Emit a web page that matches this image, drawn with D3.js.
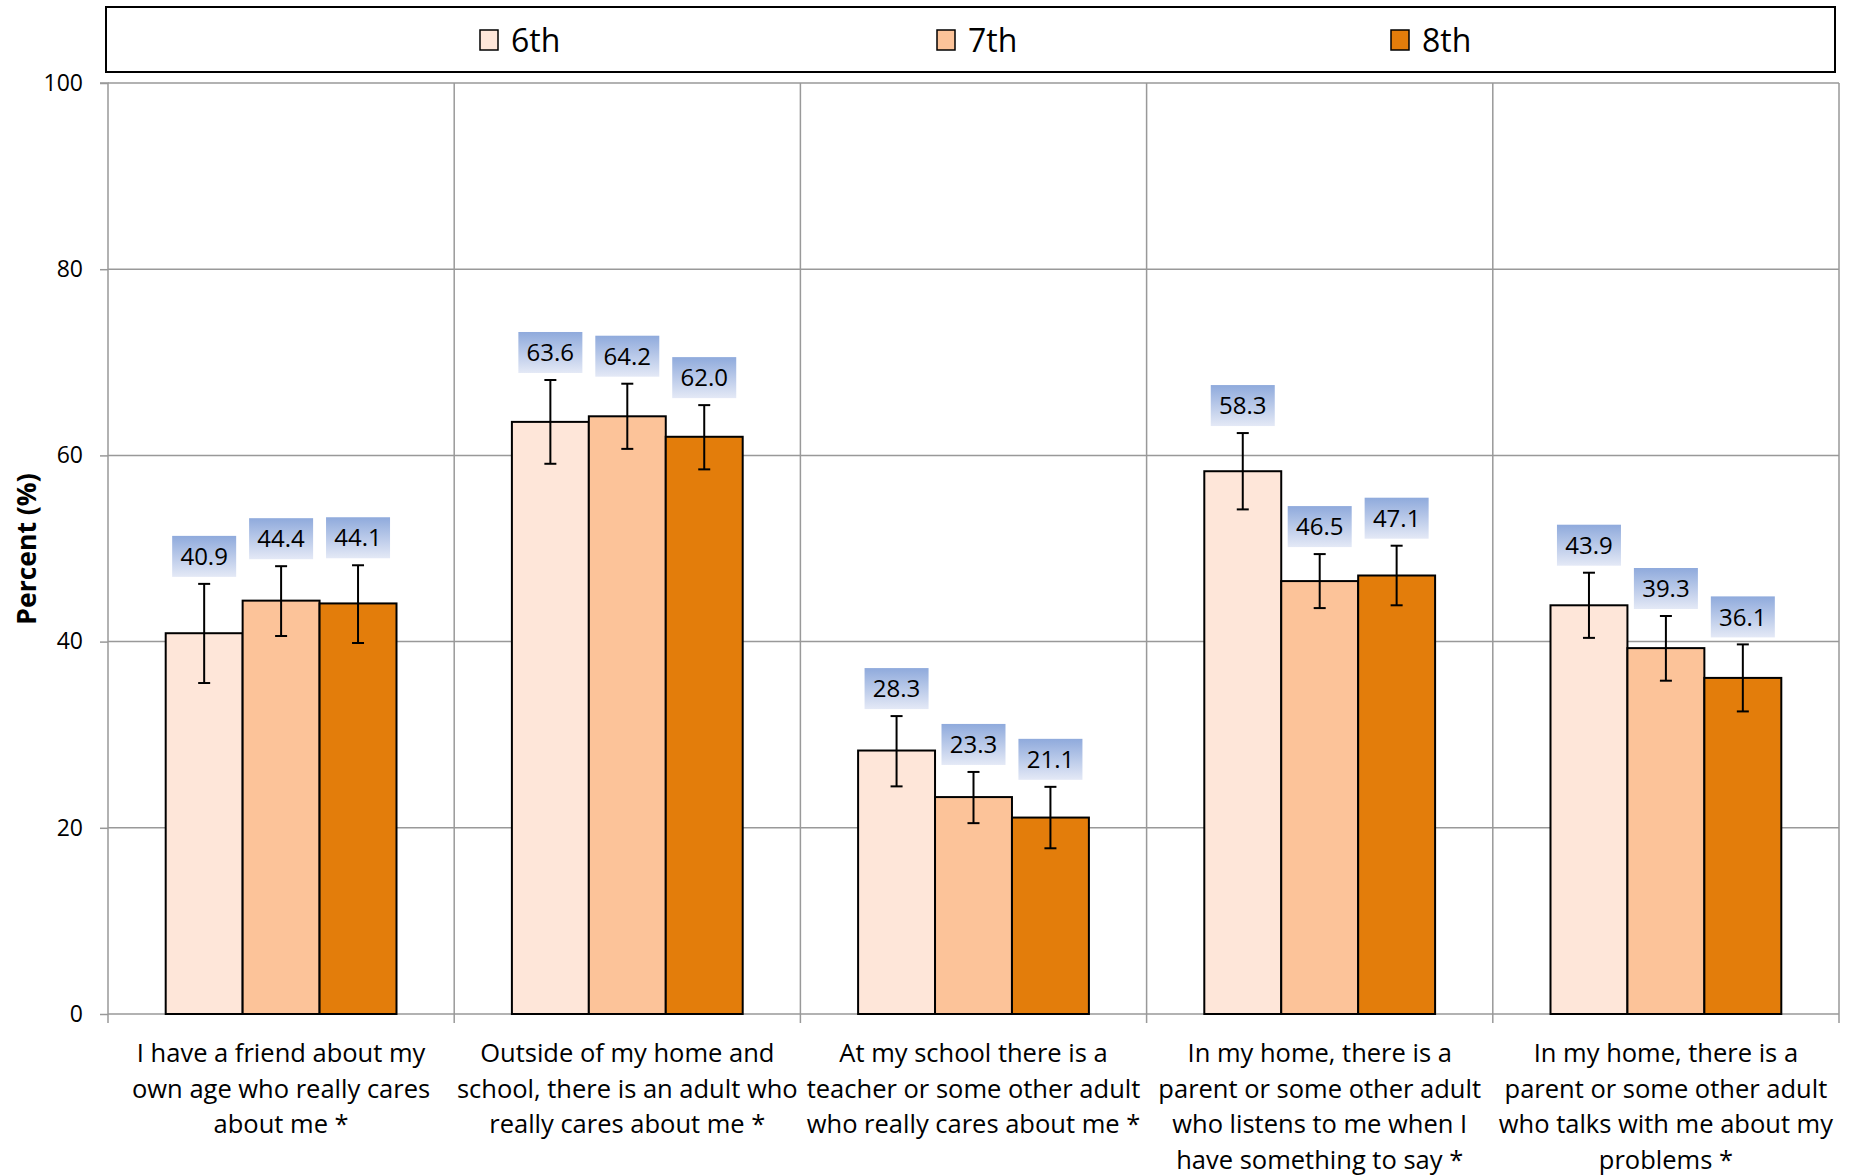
<!DOCTYPE html>
<html><head><meta charset="utf-8">
<script src="https://cdn.jsdelivr.net/npm/d3@7"></script>
<style>body{margin:0;background:#fff;} text{font-family:"Open Sans",sans-serif;}</style>
</head><body>
<svg id="c" width="1860" height="1175"></svg>
<script>
const categories = [
  ["I have a friend about my","own age who really cares","about me *"],
  ["Outside of my home and","school, there is an adult who","really cares about me *"],
  ["At my school there is a","teacher or some other adult","who really cares about me *"],
  ["In my home, there is a","parent or some other adult","who listens to me when I","have something to say *"],
  ["In my home, there is a","parent or some other adult","who talks with me about my","problems *"]
];
const seriesNames = ["6th","7th","8th"];
const seriesColors = ["#FEE6D9","#FCC399","#E37D0B"];
const v6 = [40.9,63.6,28.3,58.3,43.9];
const v7 = [44.4,64.2,23.3,46.5,39.3];
const v8 = [44.1,62.0,21.1,47.1,36.1];
const hi6 = [46.2,68.1,32.0,62.4,47.4];
const lo6 = [35.55,59.1,24.45,54.2,40.4];
const hi7 = [48.1,67.7,26.0,49.4,42.75];
const lo7 = [40.6,60.7,20.5,43.6,35.8];
const hi8 = [48.2,65.4,24.4,50.3,39.7];
const lo8 = [39.85,58.5,17.8,43.9,32.5];
const yTicks = [0,20,40,60,80,100];

const values = [v6,v7,v8], his=[hi6,hi7,hi8], los=[lo6,lo7,lo8];
const svg = d3.select("#c");
const L=108, R=1839, T=83, B=1014;
const x0 = d3.scaleBand().domain(d3.range(categories.length)).range([L,R]).padding(0);
const bw = x0.bandwidth();
const x1 = d3.scaleBand().domain(d3.range(3)).range([bw/6, bw*5/6]).padding(0);
const y = d3.scaleLinear().domain([0,100]).range([B,T]);

const defs = svg.append("defs");
const g = defs.append("linearGradient").attr("id","lg").attr("x1",0).attr("y1",0).attr("x2",0).attr("y2",1);
g.append("stop").attr("offset","0%").attr("stop-color","#8FAADC");
g.append("stop").attr("offset","100%").attr("stop-color","#E4E9F6");

// gridlines horizontal
svg.append("g").selectAll("line").data(yTicks.filter(t=>t>0)).join("line")
  .attr("x1",L).attr("x2",R).attr("y1",d=>y(d)).attr("y2",d=>y(d))
  .attr("stroke","#999").attr("stroke-width",1.5);
// vertical gridlines at category boundaries
const bounds = d3.range(1,categories.length+1).map(i=>L+i*bw);
svg.append("g").selectAll("line").data(bounds).join("line")
  .attr("x1",d=>d).attr("x2",d=>d).attr("y1",T).attr("y2",B+9)
  .attr("stroke","#999").attr("stroke-width",1.5);

// y axis
const ya = svg.append("g").attr("transform",`translate(${L},0)`)
  .call(d3.axisLeft(y).tickValues(yTicks).tickSize(8).tickPadding(17));
ya.select(".domain").attr("stroke","#999").attr("stroke-width",1.5).attr("d",`M-8,${T}H0V${B+9}`);
ya.selectAll(".tick line").attr("stroke","#999").attr("stroke-width",1.5);
ya.selectAll(".tick text").attr("font-size",23).attr("fill","#000").attr("font-family","Open Sans");
// x axis baseline
svg.append("line").attr("x1",L).attr("x2",R).attr("y1",B).attr("y2",B).attr("stroke","#999").attr("stroke-width",1.5);

// bars
categories.forEach((c,ci)=>{
  const gx = x0(ci);
  values.forEach((vals,si)=>{
    const v = vals[ci];
    svg.append("rect").attr("x",gx+x1(si)).attr("y",y(v)).attr("width",x1.bandwidth()).attr("height",B-y(v))
      .attr("fill",seriesColors[si]).attr("stroke","#000").attr("stroke-width",2);
  });
});
// error bars and labels
categories.forEach((c,ci)=>{
  const gx = x0(ci);
  values.forEach((vals,si)=>{
    const cx = gx+x1(si)+x1.bandwidth()/2;
    const h = his[si][ci], l = los[si][ci];
    const eg = svg.append("g").attr("stroke","#000").attr("stroke-width",2);
    eg.append("line").attr("x1",cx).attr("x2",cx).attr("y1",y(h)).attr("y2",y(l));
    eg.append("line").attr("x1",cx-6).attr("x2",cx+6).attr("y1",y(h)).attr("y2",y(h));
    eg.append("line").attr("x1",cx-6).attr("x2",cx+6).attr("y1",y(l)).attr("y2",y(l));
    const by = y(h)-7;
    svg.append("rect").attr("x",cx-32).attr("y",by-41).attr("width",64).attr("height",41).attr("fill","url(#lg)");
    svg.append("text").attr("x",cx).attr("y",by-20.5).attr("dy","0.36em").attr("text-anchor","middle")
      .attr("font-size",24).attr("fill","#000").text(vals[ci].toFixed(1));
  });
});

// category labels
categories.forEach((lines,ci)=>{
  const cx = x0(ci)+bw/2;
  const t = svg.append("text").attr("text-anchor","middle").attr("font-size",25.5).attr("fill","#000");
  lines.forEach((ln,k)=>{
    t.append("tspan").attr("x",cx).attr("y",1062+k*35.5).text(ln);
  });
});

// y title
svg.append("text").attr("transform","translate(26,549) rotate(-90)").attr("text-anchor","middle")
  .attr("dy","0.36em").attr("font-size",26.5).attr("font-weight","bold").attr("fill","#000").text("Percent (%)");

// legend
svg.append("rect").attr("x",106).attr("y",7).attr("width",1729).attr("height",65)
  .attr("fill","#fff").attr("stroke","#000").attr("stroke-width",2);
const legX = [480,937,1391];
seriesNames.forEach((n,i)=>{
  svg.append("rect").attr("x",legX[i]).attr("y",30).attr("width",18).attr("height",20)
    .attr("fill",seriesColors[i]).attr("stroke","#000").attr("stroke-width",1.5);
  svg.append("text").attr("x",legX[i]+31).attr("y",40).attr("dy","0.36em").attr("font-size",32)
    .attr("fill","#000").text(n);
});
</script>
</body></html>
